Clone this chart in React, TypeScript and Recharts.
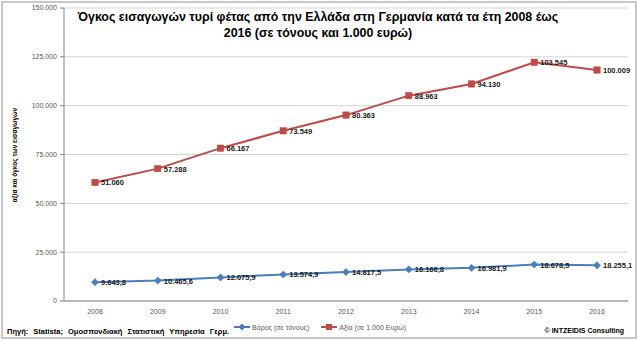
import React from 'react';
import { ComposedChart, Area, XAxis, YAxis, CartesianGrid, Legend, LabelList } from 'recharts';

const years = ['2008', '2009', '2010', '2011', '2012', '2013', '2014', '2015', '2016'];
const weightTons = [9643.8, 10465.6, 12075.9, 13574.9, 14817.5, 16166.8, 16981.9, 18678.5, 18255.1];
const valueThousandEur = [51060, 57288, 66167, 73549, 80363, 88963, 94130, 103545, 100009];
const yTicks = [0, 25000, 50000, 75000, 100000, 125000, 150000];
const boundaryTicks = [0, 1, 2, 3, 4, 5, 6, 7, 8, 9];

const weightName = 'Βάρος (σε τόνους)';
const valueName = 'Αξία (σε 1.000 Ευρώ)';
const titleLine1 = 'Όγκος εισαγωγών τυρί φέτας από την Ελλάδα στη Γερμανία κατά τα έτη 2008 έως';
const titleLine2 = '2016 (σε τόνους και 1.000 ευρώ)';
const yLabel = 'αξία και όγκος των εισαγωγών';
const sourceText = 'Πηγή: Statista; Ομοσπονδιακή Στατιστική Υπηρεσία Γερμ.';
const creditText = '© INTZEIDIS Consulting';

const BLUE = '#4A7EBB';
const RED = '#BE4B48';

const data = years.map((y, i) => ({ year: y, idx: i + 0.5, weight: weightTons[i], value: valueThousandEur[i] }));

const fmtInt = (v: number) => Math.round(v).toString().replace(/\B(?=(\d{3})+(?!\d))/g, '.');
const fmtDec = (v: number) => {
  const [a, b] = v.toFixed(1).split('.');
  return a.replace(/\B(?=(\d{3})+(?!\d))/g, '.') + ',' + b;
};

const Diamond = (props: any) => {
  const { cx, cy } = props;
  if (cx == null || cy == null) return null;
  const s = 3.6;
  return <path d={`M${cx},${cy - s}L${cx + s},${cy}L${cx},${cy + s}L${cx - s},${cy}Z`} fill={BLUE} stroke={BLUE} strokeWidth={0.5} />;
};
const Square = (props: any) => {
  const { cx, cy } = props;
  if (cx == null || cy == null) return null;
  const s = 3.2;
  return <rect x={cx - s} y={cy - s} width={2 * s} height={2 * s} fill={RED} stroke={RED} strokeWidth={0.5} />;
};

const makeLabel = (fmt: (v: number) => string) => (props: any) => {
  const { x, y, value } = props;
  if (x == null || y == null) return null;
  return (
    <text x={x + 6} y={y + 3} fontSize={7.5} fontWeight="bold" fontFamily="Liberation Sans, Arial, sans-serif" fill="#1a1a1a" textAnchor="start">
      {fmt(Number(value))}
    </text>
  );
};

const LegendContent = () => (
  <div style={{ display: 'flex', alignItems: 'center', fontFamily: 'Liberation Sans, Arial, sans-serif', fontSize: 7, color: '#595959', whiteSpace: 'nowrap' }}>
    <svg width={16} height={8} style={{ marginRight: 2 }}>
      <line x1={0} y1={4} x2={16} y2={4} stroke={BLUE} strokeWidth={2} />
      <path d="M8,0.5L11.5,4L8,7.5L4.5,4Z" fill={BLUE} />
    </svg>
    <span style={{ marginRight: 12 }}>{weightName}</span>
    <svg width={16} height={8} style={{ marginRight: 2 }}>
      <line x1={0} y1={4} x2={16} y2={4} stroke={RED} strokeWidth={2} />
      <rect x={5} y={1} width={6} height={6} fill={RED} />
    </svg>
    <span>{valueName}</span>
  </div>
);

export default function App() {
  return (
    <div style={{ position: 'absolute', left: 0, top: 0, width: 638, height: 341, background: '#fff', overflow: 'hidden' }}>
      <ComposedChart width={638} height={341} data={data} margin={{ top: 8, right: 10, left: 0, bottom: 0 }}>
        <CartesianGrid vertical={false} stroke="#d4d4d4" strokeWidth={1} />
        <XAxis
          xAxisId="b"
          type="number"
          dataKey="idx"
          domain={[0, 9]}
          ticks={boundaryTicks}
          height={0}
          axisLine={false}
          tickLine={{ stroke: '#868686' }}
          tickSize={4}
          tickFormatter={() => ''}
          tick={{ fontSize: 1 }}
        />
        <XAxis
          xAxisId="a"
          dataKey="year"
          height={40}
          padding={{ left: 31, right: 31 }}
          axisLine={{ stroke: '#868686' }}
          tickLine={false}
          tickSize={6}
          tick={{ fontSize: 7, fill: '#595959', fontFamily: 'Liberation Sans, Arial, sans-serif' }}
        />
        <YAxis
          width={64}
          domain={[0, 150000]}
          ticks={yTicks}
          tickFormatter={fmtInt}
          axisLine={{ stroke: '#868686' }}
          tickLine={{ stroke: '#868686' }}
          tickSize={4}
          tickMargin={3}
          tick={{ fontSize: 7, fill: '#595959', fontFamily: 'Liberation Sans, Arial, sans-serif' }}
        />
        <Area
          xAxisId="a"
          type="linear"
          dataKey="weight"
          name={weightName}
          stackId="s"
          stroke={BLUE}
          strokeWidth={2}
          fill="none"
          fillOpacity={0}
          dot={<Diamond />}
          activeDot={false}
          isAnimationActive={false}
        >
          <LabelList dataKey="weight" content={makeLabel(fmtDec)} />
        </Area>
        <Area
          xAxisId="a"
          type="linear"
          dataKey="value"
          name={valueName}
          stackId="s"
          stroke={RED}
          strokeWidth={2}
          fill="none"
          fillOpacity={0}
          dot={<Square />}
          activeDot={false}
          isAnimationActive={false}
        >
          <LabelList dataKey="value" content={makeLabel(fmtInt)} />
        </Area>
        <Legend
          verticalAlign="middle"
          align="center"
          layout="horizontal"
          content={<LegendContent />}
          wrapperStyle={{ position: 'absolute', left: 234, top: 323, width: 200, height: 10 }}
        />
      </ComposedChart>
      <div style={{ position: 'absolute', left: 0, top: 9, width: 636, textAlign: 'center', fontFamily: 'Liberation Sans, Arial, sans-serif', fontWeight: 'bold', fontSize: 12.4, lineHeight: '16px', color: '#000', whiteSpace: 'nowrap' }}>
        <div>{titleLine1}</div>
        <div>{titleLine2}</div>
      </div>
      <div style={{ position: 'absolute', left: 14, top: 155, transform: 'translate(-50%, -50%) rotate(-90deg)', fontFamily: 'Liberation Sans, Arial, sans-serif', fontWeight: 'bold', fontSize: 6.5, color: '#000', whiteSpace: 'nowrap' }}>
        {yLabel}
      </div>
      <div style={{ position: 'absolute', left: 7, top: 327, fontFamily: 'Liberation Sans, Arial, sans-serif', fontWeight: 'bold', fontSize: 7.5, color: '#000', whiteSpace: 'nowrap', wordSpacing: 3 }}>
        {sourceText}
      </div>
      <div style={{ position: 'absolute', right: 14, top: 327, fontFamily: 'Liberation Sans, Arial, sans-serif', fontWeight: 'bold', fontSize: 7, color: '#000', whiteSpace: 'nowrap' }}>
        {creditText}
      </div>
      <div style={{ position: 'absolute', left: 1, top: 1, width: 636, height: 338, boxSizing: 'border-box', border: '2px solid #c8c8c8', pointerEvents: 'none' }} />
    </div>
  );
}
